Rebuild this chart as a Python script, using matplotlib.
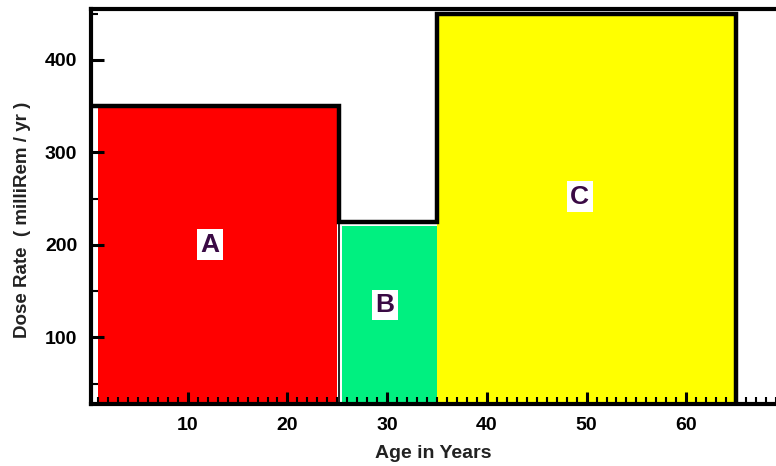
import matplotlib
matplotlib.use("Agg")
import matplotlib.pyplot as plt
from matplotlib.ticker import MultipleLocator

plt.rcParams['font.family'] = ['Liberation Sans', 'DejaVu Sans']

# Data
groups = ["A", "B", "C"]
age_start = [1.0, 25.5, 35.0]
age_end = [25.0, 35.0, 65.0]
dose_rate = [350, 220, 450]
bar_colors = ["#ff0000", "#00f080", "#ffff00"]
label_x = [12.2, 29.8, 49.3]
label_y = [200, 135, 252]

# step outline
outline_x = [0.3, 25.2, 25.2, 35.0, 35.0, 65.0, 65.0]
outline_y = [350, 350, 225, 225, 450, 450, 0]

fig = plt.figure(figsize=(7.76, 4.66), dpi=100)
ax = fig.add_axes([0.1173, 0.133, 0.8827, 0.8477])

for s, e, h, c in zip(age_start, age_end, dose_rate, bar_colors):
    ax.bar(s, h, width=e - s, align='edge', color=c, edgecolor='none', zorder=1)

ax.plot(outline_x, outline_y, color='black', lw=3.2, solid_joinstyle='miter', zorder=3)
ax.plot([25.2, 25.2], [0, 225], color='black', lw=1.2, zorder=3)

for g, x, y in zip(groups, label_x, label_y):
    ax.text(x, y, g, ha='center', va='center', fontsize=19, fontweight='bold',
            color='#3a0a44', zorder=4,
            bbox=dict(facecolor='white', edgecolor='none', pad=2.5))

ax.set_xlim(0.3, 69)
ax.set_ylim(28, 455)

ax.xaxis.set_minor_locator(MultipleLocator(1))
ax.yaxis.set_minor_locator(MultipleLocator(50))
ax.set_xticks([10, 20, 30, 40, 50, 60])
ax.set_yticks([100, 200, 300, 400])

ax.tick_params(axis='both', which='major', direction='in', length=9, width=2.2,
               labelsize=14, pad=9)
ax.tick_params(axis='both', which='minor', direction='in', length=5, width=1.5)
ax.tick_params(axis='y', which='major', pad=10)
for lab in ax.get_xticklabels() + ax.get_yticklabels():
    lab.set_fontweight('bold')

for sp in ['left', 'bottom', 'top']:
    ax.spines[sp].set_linewidth(3)
ax.spines['right'].set_visible(False)

ax.set_xlabel('Age in Years', fontsize=14, fontweight='bold', color='#222222')
ax.set_ylabel('Dose Rate  ( milliRem / yr )', fontsize=13.5, fontweight='bold',
              color='#222222')
ax.xaxis.set_label_coords(0.5, -0.124)
ax.yaxis.set_label_coords(-0.1, 0.466)
ax.xaxis.label.set_va('center')
ax.yaxis.label.set_va('center')

fig.savefig('out.png', dpi=100)
